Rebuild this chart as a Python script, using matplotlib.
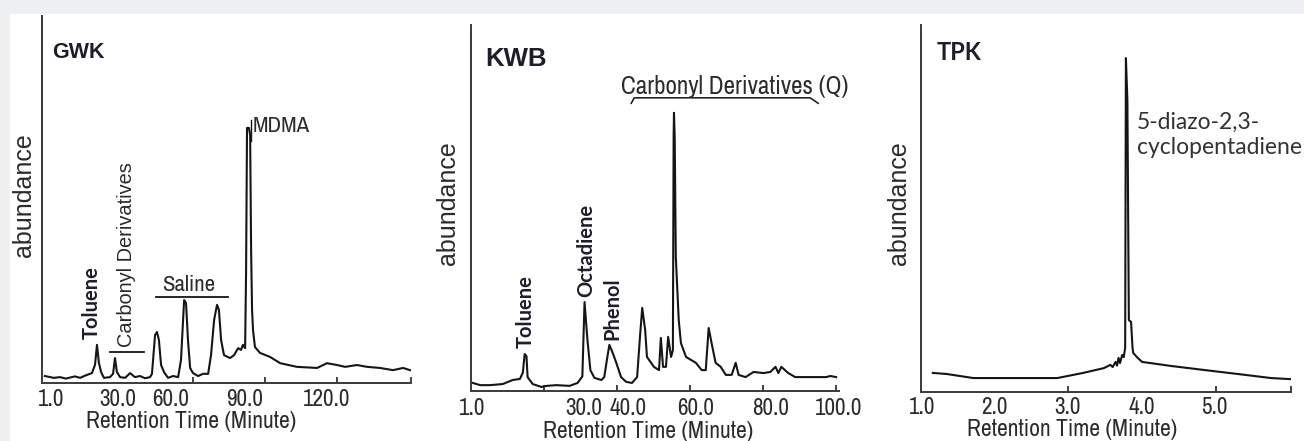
import matplotlib.pyplot as plt
from matplotlib import font_manager
from matplotlib.patches import Rectangle

W, H = 1304, 441

# ---------------------------------------------------------------
# GWK chromatogram (retention time in minutes, abundance in %)
# ---------------------------------------------------------------
gwk_time = [-1.7, 2.0, 4.6, 7.0, 10.8, 13.0, 15.0, 17.9, 19.2, 20.0, 20.8, 21.7, 22.9,
            25.4, 26.7, 27.5, 28.3, 29.6, 31.7, 33.8, 35.8, 37.9, 40.0, 42.1, 42.9,
            44.2, 45.0, 45.8, 46.7, 47.9, 49.6, 51.7, 53.8, 55.0, 56.3, 57.1, 57.9,
            58.8, 60.0, 62.1, 64.2, 66.3, 67.5, 68.8, 70.0, 70.8, 71.7, 72.9, 75.4,
            77.1, 78.8, 80.0, 80.8, 81.7, 82.1, 82.5, 83.3, 83.8, 84.2, 84.6, 85.0,
            85.8, 87.9, 92.1, 96.3, 103.3, 111.7, 115.8, 120.0, 123.3, 128.3, 132.5,
            137.9, 143.3, 147.5, 150.4]
gwk_abund = [1.9, 1.4, 1.6, 1.2, 1.8, 1.4, 2.0, 2.7, 5.0, 10.4, 5.5, 3.0, 1.4,
             1.6, 2.5, 6.8, 3.0, 1.6, 1.4, 2.7, 1.6, 1.9, 1.3, 1.6, 2.5,
             13.1, 13.9, 11.7, 4.9, 3.0, 1.4, 1.9, 1.6, 6.3, 22.6, 21.8, 11.7,
             4.1, 2.7, 1.9, 2.5, 2.5, 7.6, 17.2, 21.3, 19.9, 11.7, 7.6, 6.8,
             7.6, 9.5, 9.0, 10.4, 9.5, 30.0, 69.5, 69.5, 67.6, 36.2, 19.9, 14.4,
             9.8, 8.2, 7.1, 5.4, 4.4, 4.1, 5.4, 4.9, 4.4, 4.9, 4.4,
             4.1, 3.5, 4.1, 3.5]
gwk_tick_labels = ['1.0', '30.0', '60.0', '90.0', '120.0']
gwk_label_pos = [0.8, 28.8, 50.8, 81.3, 115.8]   # where the labels sit on the scan
gwk_tick_marks = [60, 90, 120, 150.8]
gwk_carbonyl_bar = [25.4, 39.6]
gwk_carbonyl_level = 8.4
gwk_saline_bar = [44.6, 74.6]
gwk_saline_level = 23.4
gwk_mdma_marker = [84.0, 66.0, 71.7]   # time, from, to

# ---------------------------------------------------------------
# KWB chromatogram
# ---------------------------------------------------------------
kwb_time = [0.5, 2.5, 5.2, 8.7, 11.4, 13.4, 14.2, 14.7, 15.2, 15.5, 16.9, 19.3, 20.7,
            23.4, 27.0, 29.2, 30.5, 31.1, 31.9, 32.7, 33.8, 35.7, 36.5, 37.3, 37.9,
            38.7, 39.8, 41.1, 42.5, 44.1, 45.5, 46.3, 46.9, 47.7, 48.2, 50.1, 51.5,
            52.0, 52.6, 53.4, 54.0, 54.8, 55.3, 55.5, 55.6, 55.8, 56.1, 56.9, 57.5,
            58.9, 61.6, 63.2, 64.3, 65.1, 65.9, 67.0, 68.4, 69.8, 71.4, 72.5, 73.3,
            75.2, 77.4, 80.1, 82.0, 83.4, 84.2, 85.0, 86.9, 88.8, 91.6, 95.1, 97.3,
            98.4, 100.0]
kwb_abund = [2.2, 1.6, 1.6, 1.9, 3.0, 3.3, 5.0, 10.1, 9.5, 3.8, 1.9, 1.1, 1.4,
             1.6, 1.4, 2.2, 4.0, 24.3, 13.9, 5.7, 3.6, 3.0, 3.8, 9.0, 12.6,
             10.7, 7.7, 3.8, 2.5, 2.2, 3.8, 15.0, 22.7, 16.7, 9.3, 6.6, 5.7,
             14.5, 6.6, 6.6, 14.8, 9.3, 11.2, 69.0, 76.0, 69.0, 36.6, 19.4, 13.1,
             9.3, 7.7, 5.7, 5.7, 17.2, 13.1, 7.7, 6.6, 4.4, 4.4, 7.7, 4.4,
             3.8, 5.2, 4.9, 5.2, 6.6, 4.9, 6.6, 4.9, 3.8, 3.8, 3.8, 3.8,
             4.1, 3.8]
kwb_tick_labels = ['1.0', '30.0', '40.0', '60.0', '80.0', '100.0']
kwb_label_pos = [0.3, 30.8, 43.0, 61.6, 82.0, 100.8]
kwb_tick_marks = [20, 40, 60, 80, 100]
kwb_bracket_time = [43.9, 44.7, 92.9, 95.1]
kwb_bracket_level = [78.6, 80.1, 80.1, 78.6]

# ---------------------------------------------------------------
# TPK chromatogram
# ---------------------------------------------------------------
tpk_time = [1.16, 1.35, 1.71, 2.12, 2.85, 3.20, 3.48, 3.57, 3.60, 3.64, 3.66, 3.68,
            3.70, 3.73, 3.75, 3.77, 3.78, 3.80, 3.82, 3.85, 3.87, 3.88, 3.94, 4.00,
            4.07, 4.39, 4.84, 5.30, 5.75, 6.02]
tpk_abund = [5.2, 4.9, 3.8, 3.8, 3.8, 5.2, 6.5, 7.4, 6.8, 8.2, 7.2, 9.3,
             7.9, 10.1, 9.5, 12.0, 91.0, 79.6, 19.6, 19.1, 12.0, 10.6, 9.3, 8.2,
             8.0, 7.1, 6.0, 4.9, 3.8, 3.5]
tpk_tick_labels = ['1.0', '2.0', '3.0', '4.0', '5.0']
tpk_label_pos = [1.02, 2.0, 2.99, 4.0, 4.98]
tpk_tick_marks = [2, 3, 4, 5, 6.02]

#----------------------------------------------------------------
# fonts: the scan uses a narrow grotesque for most of the small text
#----------------------------------------------------------------
installed = {f.name for f in font_manager.fontManager.ttflist}
HUMAN = 'Lato' if 'Lato' in installed else 'DejaVu Sans'
if 'Archivo Narrow' in installed:
    NARROW, NS = 'Archivo Narrow', 1.22
else:
    NARROW, NS = 'Liberation Sans', 1.0
plt.rcParams['font.family'] = 'Liberation Sans'

TRACE = '#151515'
TXT = '#2b2b2b'
LBL = '#1d1d2b'

fig = plt.figure(figsize=(W / 100, H / 100), dpi=100)
fig.patch.set_facecolor('#eef0f2')
fig.add_artist(Rectangle((10 / W, 0), 1 - 10 / W, 1 - 14 / H, transform=fig.transFigure,
                         facecolor='white', edgecolor='none', zorder=-5))


def put(px, py, s, **kw):
    # place text using pixel coordinates of the scanned figure
    return fig.text(px / W, 1 - py / H, s, **kw)


def panel(left, top, right, bottom, xlim, label_pos, labels, marks, pad):
    ax = fig.add_axes([left / W, 1 - bottom / H, (right - left) / W, (bottom - top) / H])
    ax.set_facecolor('none')
    for s in ['top', 'right']:
        ax.spines[s].set_visible(False)
    for s in ['left', 'bottom']:
        ax.spines[s].set_color('#3a3a3a')
        ax.spines[s].set_linewidth(1.4)
    ax.set_xlim(*xlim)
    ax.set_ylim(0, 100)
    ax.set_yticks([])
    ax.set_xticks(label_pos, labels)
    ax.set_xticks(marks, minor=True)
    ax.tick_params(axis='x', which='major', length=0, pad=pad, labelsize=13.7 * NS, labelcolor=TXT)
    ax.tick_params(axis='x', which='minor', direction='in', length=4.5, width=1.2, color='#222222')
    for t in ax.get_xticklabels():
        t.set_fontfamily(NARROW)
    return ax


# ---------------- GWK ----------------
ax1 = panel(42, 16, 411, 383, (-2.9, 150.8), gwk_label_pos, gwk_tick_labels, gwk_tick_marks, 4.5)
ax1.plot(gwk_time, gwk_abund, color=TRACE, lw=1.5, solid_joinstyle='round')
ax1.plot(gwk_carbonyl_bar, [gwk_carbonyl_level] * 2, color=TRACE, lw=1.3)
ax1.plot(gwk_saline_bar, [gwk_saline_level] * 2, color=TRACE, lw=1.3)
ax1.plot([gwk_mdma_marker[0]] * 2, gwk_mdma_marker[1:], color=TRACE, lw=1.0)

put(52, 52, 'GWK', fontsize=15.5, fontweight='bold', color=LBL, ha='left', va='center')
put(92, 303, 'Toluene', fontsize=14.5, fontweight='bold', family=HUMAN, color=LBL,
    rotation=90, ha='center', va='center')
put(127, 255, 'Carbonyl Derivatives', fontsize=14.4, color=TXT, rotation=90, ha='center', va='center')
put(189, 285, 'Saline', fontsize=13.5 * NS, family=NARROW, color=TXT, ha='center', va='center')
put(253, 126, 'MDMA', fontsize=13.5 * NS, family=NARROW, color=TXT, ha='left', va='center')
put(24, 195, 'abundance', fontsize=18, color=TXT, rotation=90, ha='center', va='center')
put(191, 422, 'Retention Time (Minute)', fontsize=13.9 * NS, family=NARROW, color=TXT,
    ha='center', va='center')

# ---------------- KWB ----------------
ax2 = panel(471, 25, 839, 391, (0, 100.3), kwb_label_pos, kwb_tick_labels, kwb_tick_marks, 5)
ax2.plot(kwb_time, kwb_abund, color=TRACE, lw=1.5, solid_joinstyle='round')
ax2.plot(kwb_bracket_time, kwb_bracket_level, color=TRACE, lw=1.1)

put(485, 59, 'KWB', fontsize=18.5, fontweight='bold', color=LBL, ha='left', va='center')
put(735, 86, 'Carbonyl Derivatives (Q)', fontsize=14.8 * NS, family=NARROW, color=TXT,
    ha='center', va='center')
put(526, 312, 'Toluene', fontsize=14.5, fontweight='bold', family=HUMAN, color=LBL,
    rotation=90, ha='center', va='center')
put(586, 250, 'Octadiene', fontsize=14.5, fontweight='bold', family=HUMAN, color=LBL,
    rotation=90, ha='center', va='center')
put(612, 309, 'Phenol', fontsize=14.5, fontweight='bold', family=HUMAN, color=LBL,
    rotation=90, ha='center', va='center')
put(448, 203, 'abundance', fontsize=18, color=TXT, rotation=90, ha='center', va='center')
put(648, 432, 'Retention Time (Minute)', fontsize=13.9 * NS, family=NARROW, color=TXT,
    ha='center', va='center')

# ---------------- TPK ----------------
ax3 = panel(921, 25, 1291, 392, (1.0, 6.02), tpk_label_pos, tpk_tick_labels, tpk_tick_marks, 3.5)
ax3.plot(tpk_time, tpk_abund, color=TRACE, lw=1.5, solid_joinstyle='round')

put(937, 52, 'TPK', fontsize=17, fontweight='bold', family=HUMAN, color=LBL, ha='left', va='center')
put(1137, 112, '5-diazo-2,3-\ncyclopentadiene', fontsize=16.5, family=HUMAN, color='#333333',
    ha='left', va='top', linespacing=1.25)
put(899, 203, 'abundance', fontsize=18, color=TXT, rotation=90, ha='center', va='center')
put(1072, 429, 'Retention Time (Minute)', fontsize=13.9 * NS, family=NARROW, color=TXT,
    ha='center', va='center')

plt.savefig('out.png', dpi=100, facecolor=fig.get_facecolor())
